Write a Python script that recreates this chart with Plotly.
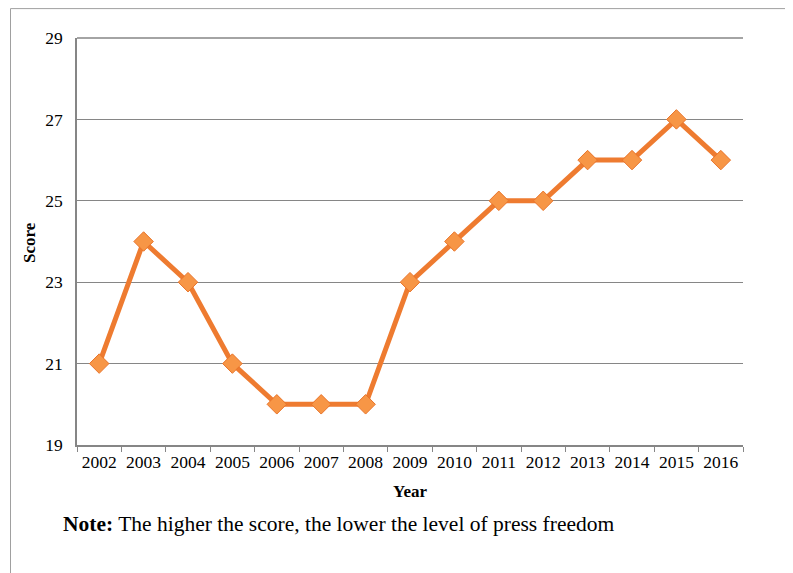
import plotly.graph_objects as go

years = ["2002", "2003", "2004", "2005", "2006", "2007", "2008", "2009",
         "2010", "2011", "2012", "2013", "2014", "2015", "2016"]
scores = [21, 24, 23, 21, 20, 20, 20, 23, 24, 25, 25, 26, 26, 27, 26]
y_ticks = [19, 21, 23, 25, 27, 29]

OFF = 8  # page body margin
W, H = 793 - OFF, 573 - OFF
L, R, T, B = 77 - OFF, 743 - OFF, 38 - OFF, 445 - OFF
pw, ph = R - L, B - T

def px(x):
    return (x - OFF - L) / pw

def py(y):
    return (B - (y - OFF)) / ph

font = "Liberation Serif, Times New Roman, serif"

fig = go.Figure()
fig.add_trace(go.Scatter(
    x=years, y=scores, mode="lines+markers",
    line=dict(color="#EE7B30", width=5),
    marker=dict(symbol="diamond", size=15, color="#F79646",
                line=dict(color="#E9742A", width=1)),
    showlegend=False,
))

fig.update_layout(
    width=W, height=H,
    margin=dict(l=L, r=W - R, t=T, b=H - B),
    paper_bgcolor="white", plot_bgcolor="white",
    font=dict(family=font, size=17.5, color="black"),
    xaxis=dict(type="category", range=[-0.5, 14.5], showgrid=False,
               showline=True, linecolor="#868686", linewidth=1.5,
               ticks="outside", tickson="boundaries", ticklen=5,
               tickcolor="#868686", tickfont=dict(size=17.5, family=font)),
    yaxis=dict(range=[19, 29], tickvals=y_ticks, showgrid=True,
               gridcolor="#868686", gridwidth=1, showline=True,
               linecolor="#868686", linewidth=1.5, ticks="",
               ticklabelstandoff=9, tickfont=dict(size=17.5, family=font),
               zeroline=False),
    shapes=[
        dict(type="line", xref="paper", yref="paper",
             x0=px(10.5), x1=px(800), y0=py(8.6), y1=py(8.6),
             line=dict(color="#A0A0A0", width=1)),
        dict(type="line", xref="paper", yref="paper",
             x0=px(10.5), x1=px(10.5), y0=py(8.6), y1=py(580),
             line=dict(color="#A0A0A0", width=1)),
        dict(type="line", xref="paper", yref="paper",
             x0=0, x1=1, y0=1, y1=1,
             line=dict(color="#868686", width=1.5)),
    ],
    annotations=[
        dict(text="<b>Year</b>", xref="paper", yref="paper",
             x=px(410), y=py(491), xanchor="center", yanchor="middle",
             showarrow=False, font=dict(size=17, family=font)),
        dict(text="<b>Score</b>", xref="paper", yref="paper",
             x=px(30), y=py(242), xanchor="center", yanchor="middle",
             textangle=-90, showarrow=False, font=dict(size=17, family=font)),
        dict(text="<b>Note:</b> The higher the score, the lower the level of press freedom",
             xref="paper", yref="paper", x=px(61), y=py(524),
             xanchor="left", yanchor="middle", showarrow=False,
             font=dict(size=21.5, family=font)),
    ],
)

fig.write_html("out.html")
